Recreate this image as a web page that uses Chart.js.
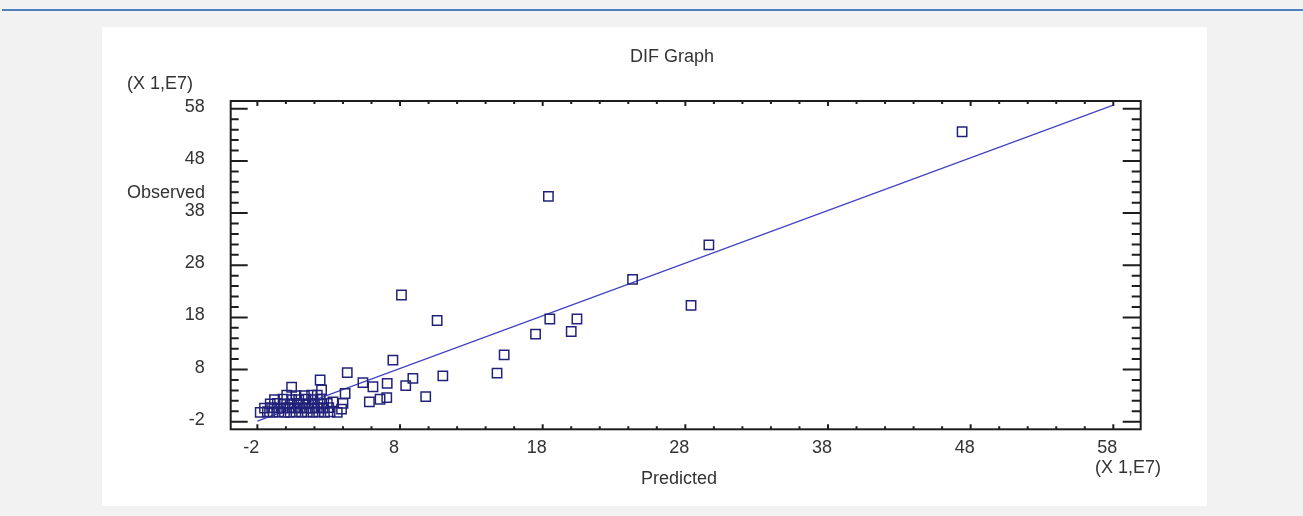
<!DOCTYPE html>
<html>
<head>
<meta charset="utf-8">
<script src="https://cdn.jsdelivr.net/npm/chart.js@4.4.1/dist/chart.umd.min.js"></script>
<style>
  html, body { margin: 0; padding: 0; }
  body { width: 1303px; height: 516px; background: #f2f2f2; position: relative; overflow: hidden; }
  #topline { position: absolute; left: 2px; top: 9px; width: 1301px; height: 2px; background: #4f81bd; }
  #panel { position: absolute; left: 102px; top: 27px; width: 1105px; height: 479px; background: #fff; }
  #difChart { display: block; }
</style>
</head>
<body>
<div id="topline"></div>
<div id="panel"><canvas id="difChart" width="1105" height="479"></canvas></div>
<script>
// predicted vs observed, units of 1E7
const predicted = [
    47.4, 18.4, 29.65, 24.3, 28.4, 8.1, 10.6, 18.5, 20.4, 17.5, 20.0, 15.3, 14.8,
    7.5, 11.0, 8.9, 8.4, 9.8, 7.1, 6.1, 5.4, 4.3, 5.85, 6.6, 7.07, 4.15, 4.0, 3.9,
    2.4, 2.5, 0.4, 3.3, 2.2, 0.06,
    -1.8, -1.3, -0.9, -0.5, -0.1, 0.3, 0.7, 1.1, 1.5, 1.9, 2.3, 2.7, 3.1, 3.6,
    -1.5, -1.0, -0.6, -0.2, 0.2, 0.6, 1.0, 1.4, 1.8, 2.2, 2.6, 3.0,
    -1.1, -0.6, -0.1, 0.3, 0.8, 1.2, 1.6, 2.0, 2.5, 2.9,
    -0.8, -0.2, 0.4, 0.9, 1.4, 1.9, 2.4,
    0.7, 1.3, 1.8
];
const observed = [
    53.6, 41.2, 31.9, 25.3, 20.3, 22.3, 17.4, 17.7, 17.7, 14.8, 15.3, 10.8, 7.3,
    9.8, 6.8, 6.3, 4.9, 2.8, 5.35, 4.7, 5.5, 7.4, 1.8, 2.3, 2.6, 3.4, 1.5, 0.4,
    6.0, 4.1, 4.6, 1.8, 3.1, 3.1,
    -0.2, -0.1, -0.2, -0.1, -0.2, -0.2, -0.1, -0.2, -0.1, -0.2, -0.1, -0.2, -0.1, -0.2,
    0.6, 0.7, 0.6, 0.6, 0.7, 0.6, 0.7, 0.6, 0.6, 0.7, 0.6, 0.7,
    1.4, 1.5, 1.4, 1.4, 1.5, 1.4, 1.4, 1.5, 1.4, 1.5,
    2.2, 2.3, 2.2, 2.2, 2.3, 2.2, 2.3,
    3.0, 3.0, 3.1
];
// fitted line end points
const fitX = [-2.0, 58.0];
const fitY = [-1.9, 58.7];

const xTicks = [-2, 8, 18, 28, 38, 48, 58];
const yTicks = [-2, 8, 18, 28, 38, 48, 58];
const minorStep = 2;

const txtFont = '18px "Liberation Sans", Arial, sans-serif';
const txtColor = '#333';

const frame = {
    id: 'frame',
    afterDraw(chart) {
        const ctx = chart.ctx;
        const a = chart.chartArea;
        const xs = chart.scales.x, ys = chart.scales.y;
        ctx.save();
        ctx.strokeStyle = '#1e1e1e';
        ctx.lineWidth = 2;
        ctx.strokeRect(a.left, a.top, a.right - a.left, a.bottom - a.top);
        ctx.beginPath();
        for (let v = xTicks[0]; v <= xTicks[xTicks.length - 1]; v += minorStep) {
            const major = xTicks.includes(v);
            const px = xs.getPixelForValue(v);
            ctx.moveTo(px, a.bottom); ctx.lineTo(px, a.bottom - (major ? 5 : 3));
            ctx.moveTo(px, a.top); ctx.lineTo(px, a.top + (major ? 5 : 3));
        }
        for (let v = yTicks[0]; v <= yTicks[yTicks.length - 1]; v += minorStep) {
            const major = yTicks.includes(v);
            const py = ys.getPixelForValue(v);
            ctx.moveTo(a.left, py); ctx.lineTo(a.left + (major ? 17 : 8), py);
            ctx.moveTo(a.right, py); ctx.lineTo(a.right - (major ? 18 : 9), py);
        }
        ctx.stroke();

        ctx.fillStyle = txtColor;
        ctx.font = txtFont;
        ctx.textBaseline = 'middle';
        ctx.textAlign = 'center';
        ctx.fillText('DIF Graph', 570, 30);
        ctx.fillText('Predicted', 577, 452);
        ctx.textAlign = 'left';
        ctx.fillText('(X 1,E7)', 25, 57);
        ctx.fillText('Observed', 25, 166);
        ctx.fillText('(X 1,E7)', 993, 441);
        ctx.restore();
    }
};

const ctx = document.getElementById('difChart').getContext('2d');
const difChart = new Chart(ctx, {
    type: 'scatter',
    data: {
        datasets: [{
            label: 'Observed',
            data: predicted.map((p, i) => ({ x: p, y: observed[i] })),
            pointStyle: 'rect',
            pointRadius: 6.6,
            borderWidth: 1.5,
            borderColor: '#22227a',
            backgroundColor: 'rgba(0,0,0,0)'
        }, {
            label: 'Fit',
            data: fitX.map((p, i) => ({ x: p, y: fitY[i] })),
            showLine: true,
            pointRadius: 0,
            borderWidth: 1.2,
            borderColor: '#4242c4'
        }]
    },
    options: {
        responsive: false,
        animation: false,
        layout: { padding: { left: 0, top: 74, right: 66.3, bottom: 0 } },
        plugins: { legend: { display: false }, tooltip: { enabled: false } },
        scales: {
            x: {
                type: 'linear',
                min: -3.87,
                max: 59.92,
                grid: { display: false, drawTicks: false },
                border: { display: false },
                afterBuildTicks: s => { s.ticks = xTicks.map(v => ({ value: v })); },
                afterFit: s => { s.height = 76.7; },
                ticks: { autoSkip: false, maxRotation: 0, padding: 8, labelOffset: -6,
                         font: { family: '"Liberation Sans", Arial, sans-serif', size: 18 }, color: txtColor }
            },
            y: {
                type: 'linear',
                min: -3.46,
                max: 59.5,
                grid: { display: false, drawTicks: false },
                border: { display: false },
                afterBuildTicks: s => { s.ticks = yTicks.map(v => ({ value: v })); },
                afterFit: s => { s.width = 128.7; },
                ticks: { autoSkip: false, padding: 26, labelOffset: -2,
                         font: { family: '"Liberation Sans", Arial, sans-serif', size: 18 }, color: txtColor }
            }
        }
    },
    plugins: [frame]
});
</script>
</body>
</html>
